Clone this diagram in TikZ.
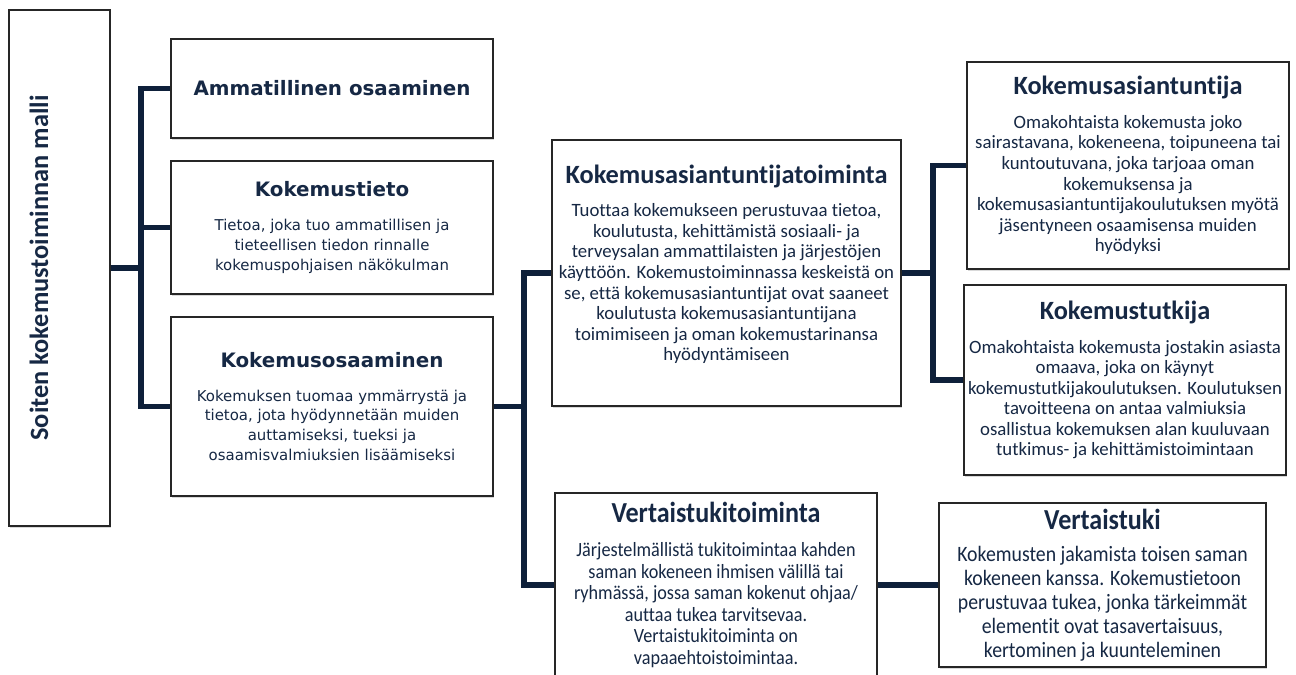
\documentclass[tikz,border=0pt]{standalone}
\usepackage{fontspec}
\setmainfont{Carlito}[Ligatures=NoCommon]
\newfontfamily\verdfont{DejaVu Sans}[Ligatures=NoCommon]
\newfontfamily\condfont{Carlito}[FakeStretch=0.9, Ligatures=NoCommon]
\usetikzlibrary{shadows}
\definecolor{inknavy}{RGB}{22,40,68}
\definecolor{linknavy}{RGB}{14,32,58}

\newcommand{\ltitle}[1]{{\fontsize{11.3}{13}\selectfont\bfseries #1}}
\newcommand{\ctitle}[1]{{\fontsize{15}{17}\selectfont\bfseries #1}}
\newcommand{\vtitle}[1]{{\fontsize{16.5}{18}\selectfont\bfseries #1}}

\begin{document}
\begin{tikzpicture}[x=0.02cm, y=-0.02cm,
  box/.style={draw=black!85, line width=0.8pt, fill=white, text=inknavy, align=center, inner sep=0pt,
    drop shadow={shadow xshift=0.6pt, shadow yshift=-1.4pt, opacity=0.25, fill=black!60}},
  lbox/.style={box, minimum width=6.44cm, font=\verdfont\fontsize{8.5}{11.3}\selectfont},
  cbox/.style={box, minimum width=6.44cm, font=\fontsize{10.7}{11.7}\selectfont},
  peerbox/.style={box, font=\condfont\fontsize{11.5}{12.2}\selectfont},
  link/.style={draw=linknavy, line width=2.9pt}
]
  \useasboundingbox (0,0) rectangle (1296,675);

  % root
  \node[box, minimum width=2.02cm, minimum height=10.32cm] (root) at (59.5,268) {};
  \node[rotate=90, text=inknavy, font=\bfseries\fontsize{15}{18}\selectfont] (rootlbl) at (39,268) {Soiten kokemustoiminnan malli};

  % left column
  \node[lbox, minimum height=1.98cm] (amm) at (332,88.5) {\ltitle{Ammatillinen osaaminen}};
  \node[lbox, minimum height=2.66cm] (tieto) at (332,227.5) {
    \ltitle{Kokemustieto}\\[8pt]
    Tietoa, joka tuo ammatillisen ja\\
    tieteellisen tiedon rinnalle\\
    kokemuspohjaisen näkökulman
  };
  \node[lbox, minimum height=3.58cm] (osa) at (332,406.5) {
    \ltitle{Kokemusosaaminen}\\[8pt]
    Kokemuksen tuomaa ymmärrystä ja\\
    tietoa, jota hyödynnetään muiden\\
    auttamiseksi, tueksi ja\\
    osaamisvalmiuksien lisäämiseksi
  };

  % middle
  \node[cbox, minimum width=6.98cm, minimum height=5.32cm] (toim) at (726.5,273) {
    \ctitle{Kokemusasiantuntijatoiminta}\\[7.5pt]
    Tuottaa kokemukseen perustuvaa tietoa,\\
    koulutusta, kehittämistä sosiaali- ja\\
    terveysalan ammattilaisten ja järjestöjen\\
    käyttöön. Kokemustoiminnassa keskeistä on\\
    se, että kokemusasiantuntijat ovat saaneet\\
    koulutusta kokemusasiantuntijana\\
    toimimiseen ja oman kokemustarinansa\\
    hyödyntämiseen\\
    \mbox{}
  };
  \node[peerbox, minimum width=6.44cm, minimum height=3.68cm] (vtoim) at (716,585) {
    \vtitle{Vertaistukitoiminta}\\[7.2pt]
    Järjestelmällistä tukitoimintaa kahden\\
    saman kokeneen ihmisen välillä tai\\
    ryhmässä, jossa saman kokenut ohjaa/\\
    auttaa tukea tarvitsevaa.\\
    Vertaistukitoiminta on\\
    vapaaehtoistoimintaa.
  };

  % right column
  \node[cbox, minimum height=4.14cm] (asian) at (1128,165.5) {
    \ctitle{Kokemusasiantuntija}\\[7.5pt]
    Omakohtaista kokemusta joko\\
    sairastavana, kokeneena, toipuneena tai\\
    kuntoutuvana, joka tarjoaa oman\\
    kokemuksensa ja\\
    kokemusasiantuntijakoulutuksen myötä\\
    jäsentyneen osaamisensa muiden\\
    hyödyksi
  };
  \node[cbox, minimum height=3.8cm] (tutk) at (1125,380) {
    \ctitle{Kokemustutkija}\\[7.5pt]
    Omakohtaista kokemusta jostakin asiasta\\
    omaava, joka on käynyt\\
    kokemustutkijakoulutuksen. Koulutuksen\\
    tavoitteena on antaa valmiuksia\\
    osallistua kokemuksen alan kuuluvaan\\
    tutkimus- ja kehittämistoimintaan
  };
  \node[peerbox, minimum width=6.54cm, minimum height=3.28cm, font=\condfont\fontsize{12.5}{13.6}\selectfont] (vtuki) at (1102.5,585) {
    \vtitle{Vertaistuki}\\[4.9pt]
    Kokemusten jakamista toisen saman\\
    kokeneen kanssa. Kokemustietoon\\
    perustuvaa tukea, jonka tärkeimmät\\
    elementit ovat tasavertaisuus,\\
    kertominen ja kuunteleminen
  };

  % connectors
  \coordinate (j1) at (141,268);
  \coordinate (j2) at (524,406.5);
  \coordinate (j3) at (933,273);
  \draw[link] (root.east) -- (j1);
  \draw[link] (amm.west) -| (j1);
  \draw[link] (osa.west) -| (j1);
  \draw[link] (tieto.west) -- (tieto.west -| j1);
  \draw[link] (osa.east) -- (j2);
  \draw[link] (toim.west) -| (j2);
  \draw[link] (vtoim.west) -| (j2);
  \draw[link] (toim.east) -- (j3);
  \draw[link] (asian.west) -| (j3);
  \draw[link] (tutk.west) -| (j3);
  \draw[link] (vtoim.east) -- (vtuki.west);
\end{tikzpicture}
\end{document}
